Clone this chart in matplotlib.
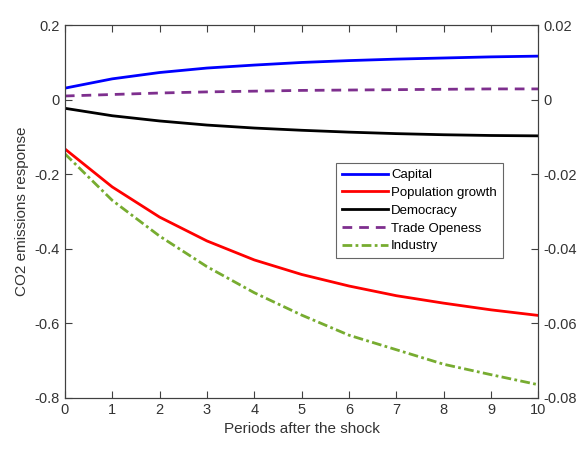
import numpy as np
import matplotlib.pyplot as plt

# Impulse responses of CO2 emissions over 10 periods
periods = np.arange(0, 11)
capital = [0.031, 0.056, 0.073, 0.085, 0.093, 0.100, 0.105, 0.109, 0.112, 0.115, 0.117]
pop_growth = [-0.132, -0.234, -0.315, -0.379, -0.430, -0.469, -0.500, -0.526, -0.546, -0.564, -0.579]
democracy = [-0.023, -0.043, -0.057, -0.068, -0.076, -0.082, -0.087, -0.091, -0.094, -0.096, -0.097]
trade_open = [0.010, 0.014, 0.018, 0.021, 0.023, 0.025, 0.026, 0.027, 0.028, 0.029, 0.029]
industry = [-0.145, -0.270, -0.366, -0.448, -0.518, -0.578, -0.632, -0.671, -0.710, -0.738, -0.765]

plt.rcParams['font.family'] = ['Liberation Sans', 'DejaVu Sans']
grey = '#404040'

fig = plt.figure(figsize=(5.79, 4.5), dpi=100)
ax = fig.add_axes([0.112, 0.116, 0.818, 0.828])

ax.plot(periods, capital, color='#0000ff', lw=2, label='Capital')
ax.plot(periods, pop_growth, color='#ff0000', lw=2, label='Population growth')
ax.plot(periods, democracy, color='black', lw=2, label='Democracy')
ax.plot(periods, trade_open, color='#7e2f8e', lw=2, ls=(0, (3.5, 2.5)), label='Trade Openess')
ax.plot(periods, industry, color='#77ac30', lw=2, ls=(0, (3.5, 1.2, 1, 1.2)), label='Industry')

ax.set_xlim(0, 10)
ax.set_ylim(-0.8, 0.2)
ax.set_xticks(np.arange(0, 11))
ax.set_yticks([-0.8, -0.6, -0.4, -0.2, 0, 0.2])
ax.set_yticklabels(['-0.8', '-0.6', '-0.4', '-0.2', '0', '0.2'])
ax.tick_params(direction='in', length=5, width=0.8, colors=grey, labelsize=10.5,
               top=True, labelcolor='#333333')
ax.tick_params(axis='y', right=False)
for s in ax.spines.values():
    s.set_color(grey)
    s.set_linewidth(0.8)

ax.set_xlabel('Periods after the shock', fontsize=11, color='#333333')
ax.set_ylabel('CO2 emissions response', fontsize=11, color='#333333')

# second scale on the right
ax2 = ax.twinx()
ax2.set_ylim(-0.08, 0.02)
ax2.set_yticks([-0.08, -0.06, -0.04, -0.02, 0, 0.02])
ax2.set_yticklabels(['-0.08', '-0.06', '-0.04', '-0.02', '0', '0.02'])
ax2.tick_params(direction='in', length=5, width=0.8, colors=grey, labelsize=10.5,
                labelcolor='#333333')
for s in ax2.spines.values():
    s.set_color(grey)
    s.set_linewidth(0.8)

leg = ax.legend(loc='upper left', bbox_to_anchor=(0.572, 0.630), fontsize=9.5,
                frameon=True, fancybox=False, edgecolor=grey, handlelength=3.5,
                handletextpad=0.25, labelspacing=0.42, borderpad=0.45,
                borderaxespad=0)
leg.get_frame().set_linewidth(0.8)

fig.savefig('out.png', dpi=100)
